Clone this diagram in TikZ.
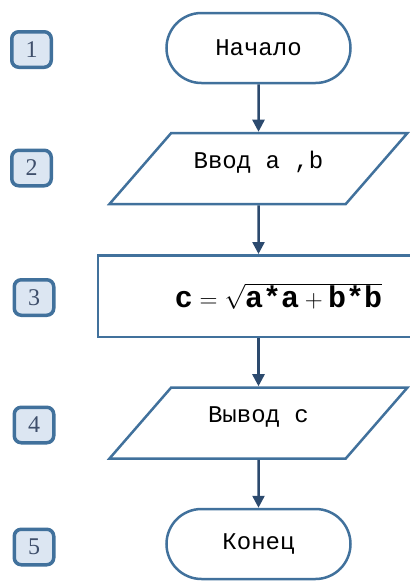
\documentclass[tikz,border=0pt]{standalone}
\usepackage{fontspec}
\setmainfont{Liberation Serif}
\setmonofont{Liberation Mono}
\usetikzlibrary{shapes.geometric}
\usetikzlibrary{arrows.meta}
\definecolor{shapeblue}{HTML}{41719C}
\definecolor{arrowblue}{HTML}{2C4A6E}
\definecolor{numfill}{HTML}{DCE6F2}
\definecolor{numtext}{HTML}{3F4F6B}

\begin{document}
\begin{tikzpicture}[x=1pt,y=-1pt]
\tikzset{terminal/.style = {draw=shapeblue, line width=2.5pt, rounded corners=35pt, minimum width=184pt, minimum height=70pt, font=\ttfamily\fontsize{24}{24}\selectfont}}
\tikzset{io/.style = {shape=trapezium, trapezium left angle=49, trapezium right angle=131, trapezium stretches body, draw=shapeblue, line width=2.5pt, inner ysep=18pt, minimum width=298pt, minimum height=71pt, text height=17pt, text depth=18pt, font=\ttfamily\fontsize{24}{24}\selectfont}}
\tikzset{process/.style = {draw=shapeblue, line width=2.5pt, minimum width=361pt, minimum height=81.5pt, font=\ttfamily\bfseries\fontsize{30}{30}\selectfont}}
\tikzset{num/.style = {draw=shapeblue, fill=numfill, line width=3.5pt, rounded corners=7pt, minimum width=39.5pt, minimum height=35.5pt, text=numtext, font=\fontsize{24}{24}\selectfont}}
\tikzset{edge/.style = {draw=arrowblue, line width=2.5pt, -{Triangle[length=12pt,width=12pt]}}}
\useasboundingbox (0,0) rectangle (410,582);
% blocks of the scheme
\node[terminal](start) at (258.5,48) {Начало};
\node[io](inp) at (258.5,168.5) {Ввод a ,b};
\node[process](calc) at (278.5,296) {$\mbox{c}=\sqrt{\mbox{a*a}+\mbox{b*b}}$};
\node[io](out) at (258.5,423) {Вывод c};
\node[terminal](stop) at (258.5,544) {Конец};
% step numbers
\node[num](n1) at (31.5,49.5) {1};
\node[num](n2) at (31.5,168) {2};
\node[num](n3) at (34,297.5) {3};
\node[num](n4) at (34,425) {4};
\node[num](n5) at (34,547) {5};
% arrows
\draw[edge] (start) -- (inp);
\draw[edge] (inp) -- (inp |- calc.north);
\draw[edge] (out |- calc.south) -- (out);
\draw[edge] (out) -- (stop);
\end{tikzpicture}
\end{document}
